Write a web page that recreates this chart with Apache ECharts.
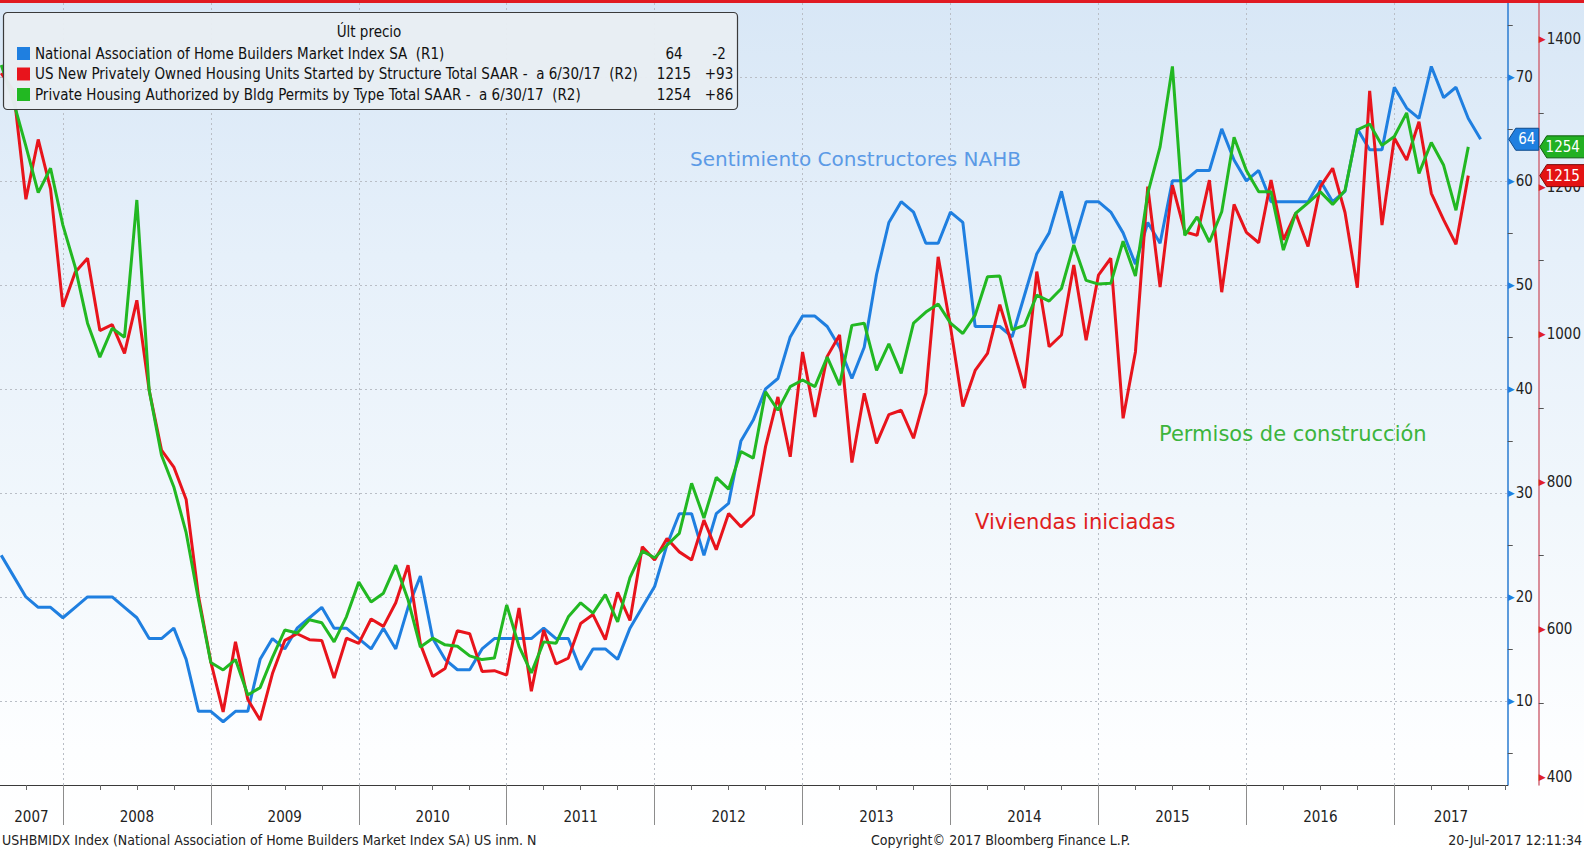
<!DOCTYPE html>
<html><head><meta charset="utf-8">
<script src="https://cdn.jsdelivr.net/npm/echarts@6/dist/echarts.min.js"></script>
<style>
html,body{margin:0;padding:0;background:#fff;}
#c{width:1584px;height:852px;background:linear-gradient(to bottom,#d8e7f6 0%,#e6f0fa 30%,#f1f7fc 60%,#fdfeff 88%,#ffffff 100%);}
</style>
</head><body><div id="c"></div>
<script>
// ---- data (monthly, first point = Jul 2007) ----
const FIRST_MONTH = 7;            // month index: 7 = end of Jul 2007 (12 = end of Dec 2007)
const years = [2007,2008,2009,2010,2011,2012,2013,2014,2015,2016,2017];

// NAHB Market Index SA (R1) Jul 2007 .. Jul 2017
const nahb = [
24,22,20,19,19,18,
19,20,20,20,19,18,16,16,17,14,9,9,
8,9,9,14,16,15,17,18,19,17,17,16,
15,17,15,19,22,16,14,13,13,15,16,16,
16,16,17,16,16,13,15,15,14,17,19,21,
25,28,28,24,28,29,35,37,40,41,45,47,
47,46,44,41,44,51,56,58,57,54,54,57,
56,46,46,46,45,49,53,55,59,54,58,58,
57,55,52,56,54,60,60,61,61,65,62,60,
61,58,58,58,58,60,58,59,65,63,63,69,
67,66,71,68,69,66,64];

// Housing starts SAAR (R2) Jul 2007 .. Jun 2017
const starts = [
1354,1330,1183,1264,1197,1037,
1084,1103,1005,1013,974,1046,924,843,820,776,645,556,
488,583,505,477,540,585,594,586,585,534,588,581,
614,604,636,687,580,536,547,598,594,543,544,538,
629,516,599,553,561,608,620,586,650,612,712,694,
723,705,694,748,708,757,739,755,848,915,834,976,
888,970,999,826,920,852,891,897,859,920,1105,1010,
902,951,974,1040,985,927,1085,983,999,1094,992,1080,
1103,886,976,1200,1064,1202,1139,1134,1209,1057,1176,1138,
1124,1209,1128,1164,1119,1200,1225,1165,1063,1330,1148,1266,
1236,1288,1191,1155,1122,1215];

// Building permits SAAR (R2) Jul 2007 .. Jun 2017
const permits = [
1365,1315,1255,1192,1225,1148,
1091,1015,969,1008,996,1182,924,836,793,731,640,555,
545,559,511,521,562,599,595,613,609,583,617,664,
637,649,687,640,576,588,579,577,564,559,561,633,
577,541,583,581,617,636,622,647,610,670,706,697,
714,730,798,751,806,790,841,832,922,897,929,938,
929,969,931,1012,1015,951,987,947,1015,1030,1041,1015,
1001,1026,1078,1079,1006,1012,1053,1045,1062,1121,1073,1068,
1069,1126,1079,1191,1254,1363,1134,1159,1125,1166,1267,1222,
1193,1193,1114,1164,1178,1193,1176,1195,1277,1285,1256,1268,
1300,1218,1260,1229,1168,1254];

const r1Ticks = [10,20,30,40,50,60,70];
const r1Minor = [5,15,25,35,45,55,65,75];
const r2Ticks = [400,600,800,1000,1200,1400];
const r2Minor = [500,700,900,1100,1300];

const names = [
  'National Association of Home Builders Market Index SA  (R1)',
  'US New Privately Owned Housing Units Started by Structure Total SAAR -  a 6/30/17  (R2)',
  'Private Housing Authorized by Bldg Permits by Type Total SAAR -  a 6/30/17  (R2)'
];
const colors = ['#1f7fe0','#e8141c','#22b822'];

// ---- axis extents ----
const X_MIN = 6.9, X_MAX = 129.2;
const R1_MIN = 1.92, R1_MAX = 77.1;
const R2_MIN = 389, R2_MAX = 1449;

const F = '"DejaVu Sans Condensed","Liberation Sans Narrow",sans-serif';
const FA = '"DejaVu Sans",sans-serif';

const toPairs = arr => arr.map((v,i) => [FIRST_MONTH + i, v]);
const yearStarts = years.slice(1).map(y => (y-2007)*12);
const yearCenters = years.map(y => {
  const s = Math.max((y-2007)*12, X_MIN), e = Math.min((y-2006)*12, X_MAX);
  return (s+e)/2;
});
const quarterTicks = [];
for (let q = 3; q < X_MAX; q += 3) if (q > X_MIN && q % 12 !== 0) quarterTicks.push(q);

function lastInfo(arr){ const l = arr[arr.length-1], p = arr[arr.length-2]; const d = l-p; return [String(l), (d>0?'+':'')+d]; }
const infos = [lastInfo(nahb), lastInfo(starts), lastInfo(permits)];

const gridMarks = r1Ticks.map(v => ({yAxis: v})).concat(yearStarts.map(v => ({xAxis: v})));

function txt(id, x, y, text, size, color, family, align){
  return {type:'text', id, x, y, z:55, style:{text, fill:color, fontSize:size, fontFamily:family||F,
    align:align||'left', verticalAlign:'middle'}};
}

const staticGraphics = [
  {type:'rect', id:'topbar', z:90, shape:{x:0,y:0,width:1584,height:3}, style:{fill:'#e01a22'}},
  {type:'rect', id:'legbox', z:50, shape:{x:3.5,y:12.5,width:734,height:97,r:4}, style:{fill:'rgba(232,237,243,0.97)', stroke:'#3a3a3a', lineWidth:1.2}},
  txt('legtitle', 369, 32, 'Últ precio', 15, '#111', F, 'center'),
  txt('ann1', 690, 159, 'Sentimiento Constructores NAHB', 20, '#5b9ae6', FA),
  txt('ann2', 1159, 434, 'Permisos de construcción', 21, '#3cb43c', FA),
  txt('ann3', 975, 522, 'Viviendas iniciadas', 21, '#e0201c', FA),
  txt('foot1', 2, 840, 'USHBMIDX Index (National Association of Home Builders Market Index SA) US inm. N', 14, '#222'),
  txt('foot2', 871, 840, 'Copyright\u00A9 2017 Bloomberg Finance L.P.', 14, '#222'),
  txt('foot3', 1582, 840, '20-Jul-2017 12:11:34', 14, '#222', F, 'right')
];

const axisLabelRich = (triColor) => ({
  t:{color:triColor, fontSize:9, fontFamily:FA, padding:[0,1,0,0]},
  v:{color:'#222', fontSize:15, fontFamily:F}
});

const option = {
  animation:false,
  backgroundColor:'transparent',
  grid:{left:0, right:76, top:3, bottom:67, containLabel:false},
  legend:{
    show:true, orient:'vertical', left:12, top:40, z:60,
    itemWidth:13, itemHeight:13, itemGap:3.5, icon:'rect', selectedMode:false,
    data:names,
    formatter: name => { const i = names.indexOf(name); return '{n|'+name+'}{v|'+infos[i][0]+'}{c|'+infos[i][1]+'}'; },
    textStyle:{fontFamily:F, fontSize:15, color:'#111', lineHeight:17,
      rich:{
        n:{width:616, fontFamily:F, fontSize:15, color:'#111', lineHeight:17},
        v:{width:46, align:'center', fontFamily:F, fontSize:15, color:'#111', lineHeight:17},
        c:{width:44, align:'center', fontFamily:F, fontSize:15, color:'#111', lineHeight:17}
      }}
  },
  xAxis:[
    {type:'value', min:X_MIN, max:X_MAX, position:'bottom',
     axisLine:{show:true, onZero:false, lineStyle:{color:'#3a3a3a', width:1}},
     axisTick:{show:true, customValues:yearStarts, length:40, lineStyle:{color:'#8c8c8c', width:1}},
     axisLabel:{show:true, customValues:yearCenters, margin:24, color:'#222', fontSize:15, fontFamily:F,
       formatter: v => String(years[0] + Math.floor(v/12))},
     splitLine:{show:false}},
    {type:'value', min:X_MIN, max:X_MAX, position:'bottom',
     axisLine:{show:false, onZero:false},
     axisTick:{show:true, customValues:quarterTicks, length:5, lineStyle:{color:'#666', width:1}},
     axisLabel:{show:false}, splitLine:{show:false}}
  ],
  yAxis:[
    {type:'value', position:'right', min:R1_MIN, max:R1_MAX,
     axisLine:{show:true, onZero:false, lineStyle:{color:'#2a7bd0', width:1.5}},
     axisTick:{show:true, customValues:r1Minor, length:5, lineStyle:{color:'#555'}},
     axisLabel:{show:true, customValues:r1Ticks, margin:0, formatter: v => '{t|\u25B6}{v|'+v+'}', rich:axisLabelRich('#1f7fe0')},
     splitLine:{show:false}},
    {type:'value', position:'right', offset:31, min:R2_MIN, max:R2_MAX,
     axisLine:{show:true, onZero:false, lineStyle:{color:'#d06a78', width:1.5}},
     axisTick:{show:true, customValues:r2Minor, length:5, lineStyle:{color:'#555'}},
     axisLabel:{show:true, customValues:r2Ticks, margin:0, formatter: v => '{t|\u25B6}{v|'+v+'}', rich:axisLabelRich('#e0202a')},
     splitLine:{show:false}}
  ],
  series:[
    {name:names[0], type:'line', xAxisIndex:0, yAxisIndex:0, data:toPairs(nahb), symbol:'none', showSymbol:false,
     color:colors[0], lineStyle:{color:colors[0], width:3}, z:3,
     markLine:{silent:true, z:1, symbol:'none', label:{show:false}, animation:false,
       lineStyle:{color:'#b9bec6', width:1, type:[2,3]}, emphasis:{disabled:true}, data:gridMarks}},
    {name:names[1], type:'line', xAxisIndex:0, yAxisIndex:1, data:toPairs(starts), symbol:'none', showSymbol:false,
     color:colors[1], lineStyle:{color:colors[1], width:3}, z:4},
    {name:names[2], type:'line', xAxisIndex:0, yAxisIndex:1, data:toPairs(permits), symbol:'none', showSymbol:false,
     color:colors[2], lineStyle:{color:colors[2], width:3}, z:5}
  ],
  graphic:{elements:staticGraphics}
};

const chart = echarts.init(document.getElementById('c'), null, {renderer:'svg', width:1584, height:852});
chart.setOption(option);

// value tags on the right axes, positioned through the axis scales
const axX = chart.convertToPixel({xAxisIndex:0}, X_MAX);
function tag(id, xTip, y, w, textX, text, fill, stroke){
  return {type:'group', id, z:70, children:[
    {type:'polygon', z:70, shape:{points:[[xTip,y],[xTip+7,y-11],[xTip+w,y-11],[xTip+w,y+11],[xTip+7,y+11]]},
     style:{fill, stroke, lineWidth:1}},
    {type:'text', z:71, x:textX, y:y, style:{text, fill:'#fff', fontSize:15, fontFamily:F, align:'center', verticalAlign:'middle'}}
  ]};
}
const yB = chart.convertToPixel({yAxisIndex:0}, nahb[nahb.length-1]);
const yR = chart.convertToPixel({yAxisIndex:1}, starts[starts.length-1]);
const yG = chart.convertToPixel({yAxisIndex:1}, permits[permits.length-1]);
chart.setOption({graphic:{elements: staticGraphics.concat([
  tag('tagB', axX+1, yB, 30, axX+19, infos[0][0], '#1f7fe0', '#0d4a8c'),
  tag('tagG', axX+32, yG, 52, axX+55, infos[2][0], '#22b022', '#0d5e0d'),
  tag('tagR', axX+32, yR, 52, axX+55, infos[1][0], '#e31313', '#7a0a0a')
])}});
</script>
</body></html>
